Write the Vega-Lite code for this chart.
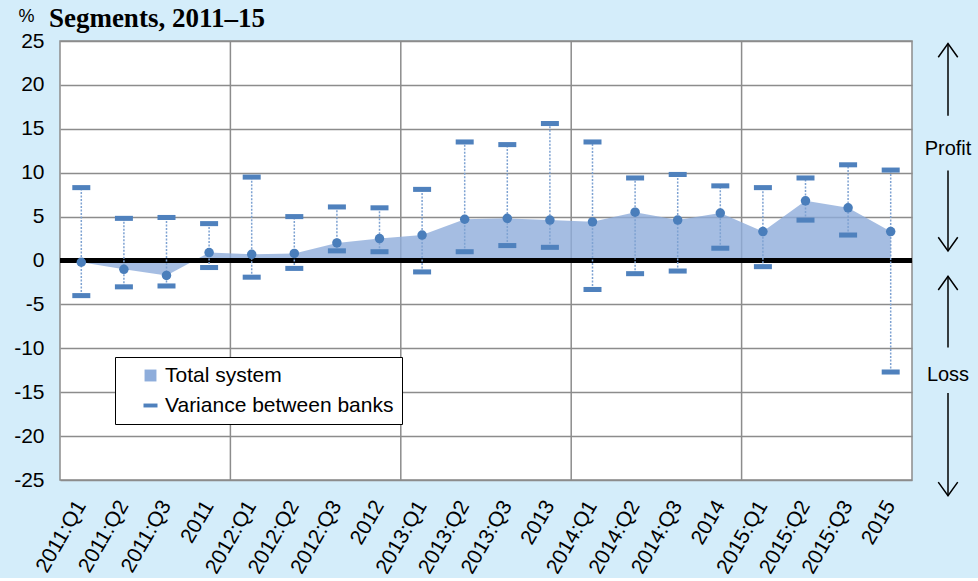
{
  "$schema": "https://vega.github.io/schema/vega-lite/v6.json",
  "background": "#d4edfa",
  "padding": {"left": 12, "top": 5, "right": 0, "bottom": 0},
  "title": {
    "text": "Segments, 2011–15",
    "anchor": "start",
    "font": "Liberation Serif",
    "fontSize": 27,
    "fontWeight": "bold",
    "color": "black",
    "offset": -27,
    "dx": 36
  },
  "config": {
    "font": "Liberation Sans",
    "view": {"fill": "white", "stroke": "#8c8c8c", "strokeWidth": 1.5},
    "axis": {"labelColor": "black", "titleColor": "black", "labelFont": "Liberation Sans", "titleFont": "Liberation Sans"},
    "legend": {
      "title": null,
      "orient": "none",
      "legendX": 55,
      "legendY": 316,
      "fillColor": "white",
      "strokeColor": "black",
      "padding": 8,
      "symbolOffset": 17,
      "symbolSize": 196,
      "symbolStrokeWidth": 0,
      "symbolOpacity": 1,
      "labelFontSize": 21,
      "labelColor": "black",
      "labelFont": "Liberation Sans",
      "labelLimit": 400,
      "labelOffset": 4,
      "rowPadding": 8
    }
  },
  "bounds": "flush",
  "spacing": 6,
  "resolve": {"scale": {"shape": "independent", "color": "independent", "y": "independent", "x": "independent"}},
  "datasets": {
    "main": [
      {"period": "2011:Q1", "total": -0.2, "low": -4.0, "high": 8.3},
      {"period": "2011:Q2", "total": -1.0, "low": -3.0, "high": 4.8},
      {"period": "2011:Q3", "total": -1.7, "low": -2.9, "high": 4.9},
      {"period": "2011", "total": 0.9, "low": -0.8, "high": 4.2},
      {"period": "2012:Q1", "total": 0.7, "low": -1.9, "high": 9.5},
      {"period": "2012:Q2", "total": 0.8, "low": -0.9, "high": 5.0},
      {"period": "2012:Q3", "total": 2.0, "low": 1.1, "high": 6.1},
      {"period": "2012", "total": 2.5, "low": 1.0, "high": 6.0},
      {"period": "2013:Q1", "total": 2.9, "low": -1.3, "high": 8.1},
      {"period": "2013:Q2", "total": 4.7, "low": 1.0, "high": 13.5},
      {"period": "2013:Q3", "total": 4.8, "low": 1.7, "high": 13.2},
      {"period": "2013", "total": 4.6, "low": 1.5, "high": 15.6},
      {"period": "2014:Q1", "total": 4.4, "low": -3.3, "high": 13.5},
      {"period": "2014:Q2", "total": 5.5, "low": -1.5, "high": 9.4},
      {"period": "2014:Q3", "total": 4.6, "low": -1.2, "high": 9.8},
      {"period": "2014", "total": 5.4, "low": 1.4, "high": 8.5},
      {"period": "2015:Q1", "total": 3.3, "low": -0.7, "high": 8.3},
      {"period": "2015:Q2", "total": 6.8, "low": 4.6, "high": 9.4},
      {"period": "2015:Q3", "total": 6.0, "low": 2.9, "high": 10.9},
      {"period": "2015", "total": 3.3, "low": -12.7, "high": 10.3}
    ],
    "arrows": [
      {"tip": 24.7, "tail": 16.5, "dir": "up"},
      {"tip": 1.1, "tail": 10.25, "dir": "down"},
      {"tip": -1.8, "tail": -9.9, "dir": "up"},
      {"tip": -26.8, "tail": -15.1, "dir": "down"}
    ],
    "labels": [
      {"label": "Profit", "y": 12.75},
      {"label": "Loss", "y": -13.0}
    ]
  },
  "hconcat": [
    {
      "width": 852,
      "height": 439,
      "data": {"name": "main"},
      "layer": [
        {
          "transform": [{"filter": {"field": "period", "oneOf": ["2012:Q1", "2013:Q1", "2014:Q1", "2015:Q1"]}}],
          "mark": {"type": "rule", "color": "#8c8c8c", "strokeWidth": 1.5},
          "encoding": {
            "x": {
              "field": "period",
              "type": "ordinal",
              "sort": null,
              "bandPosition": 0,
              "scale": {
                "type": "band",
                "paddingInner": 0,
                "paddingOuter": 0,
                "domain": ["2011:Q1","2011:Q2","2011:Q3","2011","2012:Q1","2012:Q2","2012:Q3","2012","2013:Q1","2013:Q2","2013:Q3","2013","2014:Q1","2014:Q2","2014:Q3","2014","2015:Q1","2015:Q2","2015:Q3","2015"]
              },
              "axis": {
                "title": null,
                "labelAngle": -60,
                "labelFontSize": 21,
                "labelPadding": 22,
                "ticks": false,
                "domain": false,
                "grid": false,
                "bandPosition": 0.5
              }
            }
          }
        },
        {
          "mark": {"type": "area", "opacity": 0.8},
          "encoding": {
            "x": {"field": "period", "type": "ordinal", "sort": null, "bandPosition": 0.5},
            "y": {
              "field": "total",
              "type": "quantitative",
              "scale": {"domain": [-25, 25], "nice": false},
              "axis": {
                "title": "%",
                "titleAngle": 0,
                "titleAlign": "left",
                "titleBaseline": "alphabetic",
                "titleX": -42,
                "titleY": -20,
                "titleFontSize": 18,
                "titleFontWeight": "normal",
                "values": [-25, -20, -15, -10, -5, 0, 5, 10, 15, 20, 25],
                "labelExpr": "datum.value + ''",
                "labelFontSize": 21,
                "labelPadding": 16,
                "ticks": false,
                "domain": false,
                "grid": true,
                "gridColor": "#8c8c8c",
                "gridWidth": 1.5
              }
            },
            "color": {
              "datum": "Total system",
              "type": "nominal",
              "scale": {"domain": ["Total system", "Variance between banks"], "range": ["#8eaddb", "#4f81bd"]}
            }
          }
        },
        {
          "mark": {"type": "rule", "color": "black", "strokeWidth": 5},
          "encoding": {"y": {"datum": 0}}
        },
        {
          "mark": {"type": "rule", "color": "#7ea2d2", "strokeWidth": 1.5, "strokeDash": [2, 1.5]},
          "encoding": {
            "x": {"field": "period", "type": "ordinal", "sort": null, "bandPosition": 0.5},
            "y": {"field": "low", "type": "quantitative"},
            "y2": {"field": "high"}
          }
        },
        {
          "mark": {"type": "point", "filled": true, "opacity": 1, "size": 324},
          "encoding": {
            "x": {"field": "period", "type": "ordinal", "sort": null, "bandPosition": 0.5},
            "y": {"field": "high", "type": "quantitative"},
            "color": {"datum": "Variance between banks", "type": "nominal"},
            "shape": {
              "datum": "Variance between banks",
              "type": "nominal",
              "scale": {"domain": ["Total system", "Variance between banks"], "range": ["M-0.85,-0.85H0.85V0.85H-0.85Z", "M-1,-0.28H1V0.28H-1Z"]}
            }
          }
        },
        {
          "mark": {"type": "point", "filled": true, "opacity": 1, "size": 324},
          "encoding": {
            "x": {"field": "period", "type": "ordinal", "sort": null, "bandPosition": 0.5},
            "y": {"field": "low", "type": "quantitative"},
            "color": {"datum": "Variance between banks", "type": "nominal"},
            "shape": {"datum": "Variance between banks", "type": "nominal"}
          }
        },
        {
          "mark": {"type": "circle", "color": "#4a7ebb", "opacity": 1, "size": 90},
          "encoding": {
            "x": {"field": "period", "type": "ordinal", "sort": null, "bandPosition": 0.5},
            "y": {"field": "total", "type": "quantitative"}
          }
        }
      ]
    },
    {
      "width": 60,
      "height": 439,
      "view": {"fill": null, "stroke": null},
      "layer": [
        {
          "data": {"name": "arrows"},
          "mark": {"type": "rule", "color": "black", "strokeWidth": 1.5},
          "encoding": {
            "y": {"field": "tip", "type": "quantitative", "scale": {"domain": [-25, 25], "nice": false, "zero": false}, "axis": null},
            "y2": {"field": "tail"}
          }
        },
        {
          "data": {"name": "arrows"},
          "transform": [{"filter": "datum.dir == 'up'"}],
          "mark": {"type": "point", "filled": false, "color": "black", "strokeWidth": 1.5, "opacity": 1, "size": 380, "shape": "M-1,1.4L0,0L1,1.4"},
          "encoding": {"y": {"field": "tip", "type": "quantitative"}}
        },
        {
          "data": {"name": "arrows"},
          "transform": [{"filter": "datum.dir == 'down'"}],
          "mark": {"type": "point", "filled": false, "color": "black", "strokeWidth": 1.5, "opacity": 1, "size": 380, "shape": "M-1,-1.4L0,0L1,-1.4"},
          "encoding": {"y": {"field": "tip", "type": "quantitative"}}
        },
        {
          "data": {"name": "labels"},
          "mark": {"type": "text", "fontSize": 20, "color": "black", "font": "Liberation Sans"},
          "encoding": {
            "y": {"field": "y", "type": "quantitative"},
            "text": {"field": "label"}
          }
        }
      ]
    }
  ]
}
